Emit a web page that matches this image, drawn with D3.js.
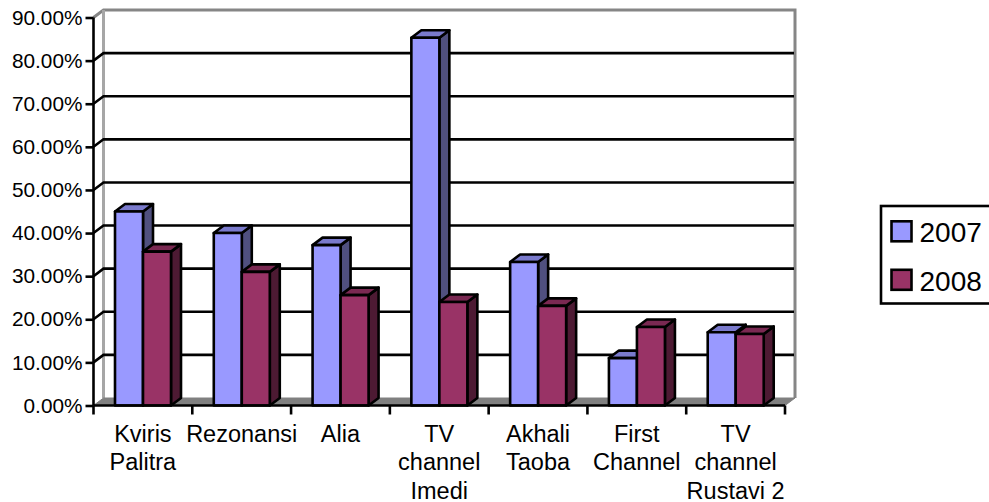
<!DOCTYPE html>
<html><head><meta charset="utf-8">
<style>html,body{margin:0;padding:0;background:#fff;overflow:hidden}svg{display:block}text{font-family:"Liberation Sans",Arial,sans-serif;fill:#000}</style>
<script src="https://cdnjs.cloudflare.com/ajax/libs/d3/7.8.5/d3.min.js"></script>
</head><body><script>
const categories=[["Kviris","Palitra"],["Rezonansi"],["Alia"],["TV","channel","Imedi"],["Akhali","Taoba"],["First","Channel"],["TV","channel","Rustavi 2"]];
const seriesNames=["2007","2008"];
const values2007=[45,40,37.2,85.3,33.3,11,17];
const values2008=[35.7,31,25.6,24,23.1,18.2,16.6];
const yTicks=[0,10,20,30,40,50,60,70,80,90];
const colors=["#9999ff","#993366"];
const tops=["#7a7acc","#7a2952"];
const sides=["#50507f","#4d1a33"];
const W=989,H=502,dx=10,dy=7.5,sw=2.6;
const svg=d3.select("body").append("svg").attr("width",W).attr("height",H);
const y=d3.scaleLinear().domain([0,90]).range([405.5,17.5]);
const x0=d3.scaleBand().domain(d3.range(categories.length)).range([93.5,785]);
const x1=d3.scaleBand().domain(seriesNames).range([21.5,77.5]);
const left=93.5,right=785;
// back wall and floor
svg.append("path").attr("d",`M${left},${y(90)}L${left+dx},${y(90)-dy}H${right+dx}V${y(0)-dy}`).attr("fill","none").attr("stroke","#868686").attr("stroke-width",3);
svg.append("path").attr("d",`M${left+dx},${y(90)-dy}V${y(0)-dy}`).attr("stroke","#a6a6a6").attr("stroke-width",3);
svg.append("path").attr("d",`M${left},${y(0)}L${left+dx},${y(0)-dy}H${right+dx}L${right},${y(0)}Z`).attr("fill","#808080").attr("stroke","#808080");
// grid
yTicks.filter(d=>d>0&&d<90).forEach(t=>{
  svg.append("path").attr("d",`M${left},${y(t)}L${left+dx},${y(t)-dy}H${right+dx-1}`).attr("fill","none").attr("stroke","#000").attr("stroke-width",sw);
});
// bars
categories.forEach((c,i)=>{
  [values2007,values2008].forEach((vals,s)=>{
    const name=seriesNames[s],bx=x0(i)+x1(name),bw=x1.bandwidth(),t=y(vals[i]),b=y(0);
    const g=svg.append("g").attr("stroke","#000").attr("stroke-width",sw).attr("stroke-linejoin","round");
    g.append("path").attr("fill",sides[s]).attr("d",`M${bx+bw},${t}L${bx+bw+dx},${t-dy}V${b-dy}L${bx+bw},${b}Z`);
    g.append("path").attr("fill",tops[s]).attr("d",`M${bx},${t}L${bx+dx},${t-dy}H${bx+bw+dx}L${bx+bw},${t}Z`);
    g.append("rect").attr("fill",colors[s]).attr("x",bx).attr("y",t).attr("width",bw).attr("height",b-t);
  });
});
// axes
const yAxis=d3.axisLeft(y).tickValues(yTicks).tickFormat(d=>d3.format(".2f")(d)+"%").tickSize(8).tickPadding(3);
const yg=svg.append("g").attr("transform",`translate(${left},0)`).call(yAxis);
yg.selectAll("path,line").attr("stroke","#000").attr("stroke-width",sw);
yg.selectAll("text").attr("font-size",20.8).attr("font-family",null).attr("fill","#000");
yg.select(".domain").attr("d",`M0,${y(90)}V${y(0)}`);
const xTickVals=d3.range(categories.length+1).map(i=>i<categories.length?x0(i):right);
const xg=svg.append("g");
xg.append("path").attr("d",`M${left},${y(0)}H${right}`).attr("stroke","#000").attr("stroke-width",sw);
xg.selectAll("line").data(xTickVals).join("line").attr("x1",d=>d).attr("x2",d=>d).attr("y1",y(0)).attr("y2",y(0)+9).attr("stroke","#000").attr("stroke-width",sw);
categories.forEach((c,i)=>{
  const cx=x0(i)+x0.bandwidth()/2;
  c.forEach((ln,k)=>svg.append("text").attr("x",cx).attr("y",441.5+k*28.5).attr("text-anchor","middle").attr("font-size",23.5).text(ln));
});
// legend
svg.append("rect").attr("x",881).attr("y",206).attr("width",110).attr("height",97.5).attr("fill","#fff").attr("stroke","#000").attr("stroke-width",sw);
seriesNames.forEach((n,i)=>{
  const ly=221.3+i*48.5;
  svg.append("rect").attr("x",891.5).attr("y",ly).attr("width",20).attr("height",20).attr("fill",colors[i]).attr("stroke","#000").attr("stroke-width",sw);
  svg.append("text").attr("x",919.5).attr("y",ly+20.7).attr("font-size",28).text(n);
});
</script></body></html>
